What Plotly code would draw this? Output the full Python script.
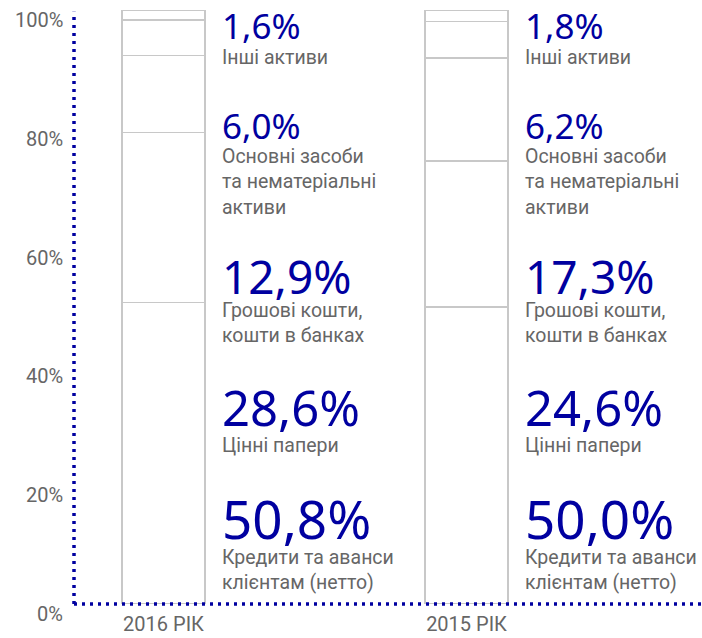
import plotly.graph_objects as go

# ---- data ----
years = ["2016 РІК", "2015 РІК"]
segments = [
    "Кредити та аванси<br>клієнтам (нетто)",
    "Цінні папери",
    "Грошові кошти,<br>кошти в банках",
    "Основні засоби<br>та нематеріальні<br>активи",
    "Інші активи",
]
values_2016 = [50.8, 28.6, 12.9, 6.0, 1.6]
values_2015 = [50.0, 24.6, 17.3, 6.2, 1.8]
value_labels_2016 = ["50,8%", "28,6%", "12,9%", "6,0%", "1,6%"]
value_labels_2015 = ["50,0%", "24,6%", "17,3%", "6,2%", "1,8%"]
y_ticks = [0, 20, 40, 60, 80, 100]
y_tick_text = ["0%", "20%", "40%", "60%", "80%", "100%"]

# ---- style / layout ----
W, H = 702, 638
ML, MR, MT, MB = 74, 0, 10, 34
PLOT_H = H - MT - MB
BLUE = "#0000a0"
GREY = "#666666"
BAR_LINE = "#c8c8c8"
BIG_SIZES = [53, 49, 46, 35, 35]
# label block centers in pixels from top of page (layout only)
BIG_CENTER_PX = [518, 407, 276, 125, 25]
SMALL_CENTER_PX = [570, 445, 323, 182, 57]


def px_to_y(py):
    return (H - MB - py) / PLOT_H * 100


fig = go.Figure()
for i, seg in enumerate(segments):
    fig.add_trace(go.Bar(
        x=years,
        y=[values_2016[i], values_2015[i]],
        name=seg,
        marker=dict(color="white", line=dict(color=BAR_LINE, width=1.5)),
        width=0.274,
        hoverinfo="skip",
    ))

annotations = []
for yi, (yr, labels) in enumerate(zip(years, [value_labels_2016, value_labels_2015])):
    for i, seg in enumerate(segments):
        annotations.append(dict(
            x=yr, xref="x", xshift=57, xanchor="left",
            y=px_to_y(BIG_CENTER_PX[i]), yref="y", yanchor="middle",
            text=labels[i], showarrow=False, align="left", borderpad=0,
            font=dict(family="Noto Sans", size=BIG_SIZES[i], color=BLUE),
        ))
        annotations.append(dict(
            x=yr, xref="x", xshift=57, xanchor="left",
            y=px_to_y(SMALL_CENTER_PX[i]), yref="y", yanchor="middle",
            text=seg, showarrow=False, align="left", borderpad=0,
            font=dict(family="Roboto", size=19.5, color=GREY),
        ))

for v, t in zip(y_ticks, y_tick_text):
    annotations.append(dict(
        x=0, xref="paper", xanchor="right", xshift=-9,
        y=v, yref="y", yanchor="middle", yshift=-10,
        text=t, showarrow=False,
        font=dict(family="Roboto", size=20, color=GREY),
    ))

shapes = [
    dict(type="line", xref="paper", yref="paper", x0=0, x1=0, y0=0, y1=0.997,
         line=dict(color=BLUE, width=3.5, dash="3px,5px"), layer="above"),
    dict(type="line", xref="paper", yref="paper", x0=0, x1=1, y0=0, y1=0,
         line=dict(color=BLUE, width=3.5, dash="3px,5px"), layer="above"),
]

fig.update_layout(
    width=W, height=H,
    margin=dict(l=ML, r=MR, t=MT, b=MB),
    barmode="stack",
    showlegend=False,
    plot_bgcolor="white", paper_bgcolor="white",
    annotations=annotations,
    shapes=shapes,
    xaxis=dict(type="category", range=[-0.2954, 1.777], showgrid=False,
               zeroline=False, showline=False, ticks="", ticklabelstandoff=6,
               tickfont=dict(family="Roboto", size=20, color=GREY)),
    yaxis=dict(range=[0, 100], showgrid=False, zeroline=False,
               showline=False, showticklabels=False, ticks=""),
)

fig.write_html("out.html", config={"displayModeBar": False},
               post_script="document.body.style.margin='0';")
